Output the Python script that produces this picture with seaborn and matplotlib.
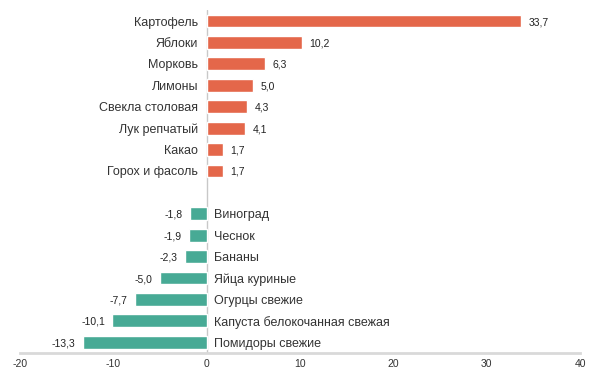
import matplotlib
matplotlib.use("Agg")
import matplotlib.pyplot as plt
import seaborn as sns
import pandas as pd

# data
growth_items = ["Картофель", "Яблоки", "Морковь", "Лимоны", "Свекла столовая",
                "Лук репчатый", "Какао", "Горох и фасоль"]
growth_values = [33.7, 10.2, 6.3, 5.0, 4.3, 4.1, 1.7, 1.7]
drop_items = ["Виноград", "Чеснок", "Бананы", "Яйца куриные", "Огурцы свежие",
              "Капуста белокочанная свежая", "Помидоры свежие"]
drop_values = [-1.8, -1.9, -2.3, -5.0, -7.7, -10.1, -13.3]
x_ticks = [-20, -10, 0, 10, 20, 30, 40]

ORANGE = "#E4674A"
TEAL = "#47AA95"


def fmt(v):
    return f"{v:.1f}".replace(".", ",")


def main():
    sns.set_theme(style="white")
    plt.rcParams["font.family"] = ["Liberation Sans", "DejaVu Sans"]

    df = pd.DataFrame({
        "item": growth_items + drop_items,
        "change": growth_values + drop_values,
        "sign": ["up"] * len(growth_items) + ["down"] * len(drop_items),
    })
    # blank slot between the two groups
    order = growth_items + [" "] + drop_items

    fig = plt.figure(figsize=(6, 3.75), dpi=100)
    ax = fig.add_axes([0.0333, 0.0587, 0.9334, 0.9138])

    sns.barplot(data=df, x="change", y="item", hue="sign", order=order,
                palette={"up": ORANGE, "down": TEAL}, dodge=False,
                width=0.6, saturation=1, orient="h", legend=False, ax=ax)

    ax.set_xlim(-20, 40)
    ax.set_ylim(len(order) - 0.5, -0.5)
    ax.set_xticks(x_ticks)
    ax.set_xticklabels([str(t) for t in x_ticks], fontsize=7.5, color="#333333")
    ax.tick_params(axis="x", length=0, pad=4)
    ax.set_yticks([])
    ax.set_xlabel("")
    ax.set_ylabel("")

    for side in ["top", "right", "left"]:
        ax.spines[side].set_visible(False)
    ax.spines["bottom"].set_color("#d9d9d9")
    ax.spines["bottom"].set_linewidth(2)
    ax.axvline(0, color="#c8c8c8", lw=1, zorder=0)

    # labels: category names on the opposite side of zero, values at bar ends
    for i, name in enumerate(order):
        row = df[df["item"] == name]
        if row.empty:
            continue
        v = row["change"].iloc[0]
        if v >= 0:
            ax.text(-0.9, i, name, ha="right", va="center_baseline", fontsize=9, color="#333333")
            ax.text(v + 0.8, i, fmt(v), ha="left", va="center_baseline", fontsize=7.5, color="#222222")
        else:
            ax.text(0.8, i, name, ha="left", va="center_baseline", fontsize=9, color="#333333")
            ax.text(v - 0.8, i, fmt(v), ha="right", va="center_baseline", fontsize=7.5, color="#222222")

    fig.savefig("out.png", dpi=100)


if __name__ == "__main__":
    main()
